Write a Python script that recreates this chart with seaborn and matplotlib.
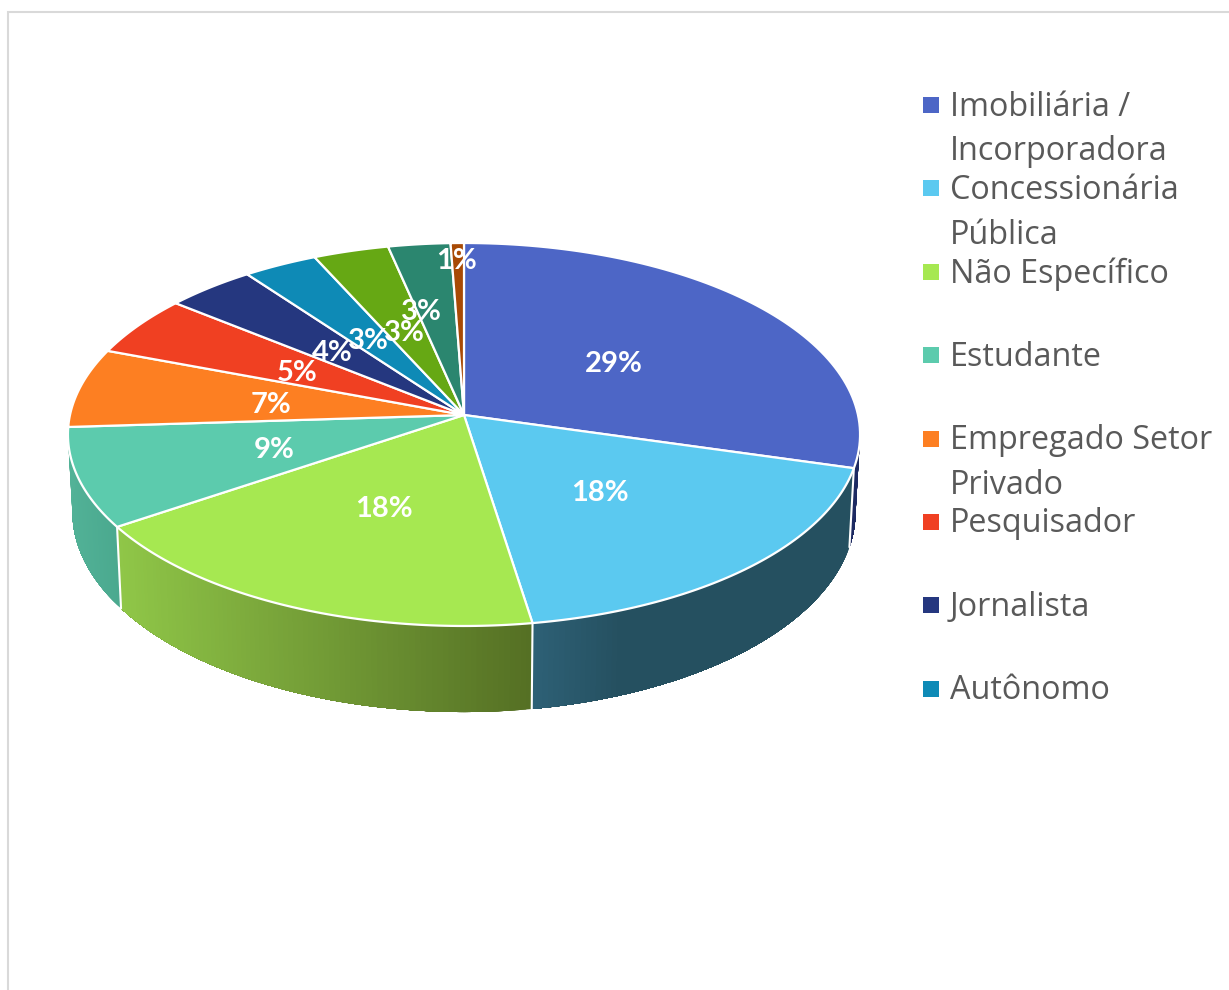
import numpy as np
import matplotlib
matplotlib.use("Agg")
import matplotlib.pyplot as plt
import seaborn as sns

# shares, label = what the chart prints
shares = [29.4, 18.1, 18.1, 8.4, 6.7, 5.1, 4.05, 3.35, 3.4, 2.8, 0.6]
pct_labels = ["29%", "18%", "18%", "9%", "7%", "5%", "4%", "3%", "3%", "3%", "1%"]
legend_labels = ["Imobiliária /\nIncorporadora", "Concessionária\nPública", "Não Específico",
                 "Estudante", "Empregado Setor\nPrivado", "Pesquisador", "Jornalista", "Autônomo"]
top_colors = ["#4d66c6", "#5bc9f0", "#a6e851", "#5ccbad", "#fd7f22", "#f04022",
              "#25377f", "#0e8ab6", "#66a814", "#2b866f", "#a84a05"]
# side colours, left end and right end of the gradient (only the front slices show a side)
side_left = {0: "#1d2a62", 1: "#2e6177", 2: "#90c748", 3: "#52b297"}
side_right = {0: "#1d2a62", 1: "#255060", 2: "#557024", 3: "#4aa88e"}

# the labels the original has off the halfway spot
label_shift = {0: (-3, 0), 2: (3, -1), 9: (-19, -18), 10: (-4, -68)}

CX, CY = 464, 415
K = 0.1018


def project(t, r=1.0, bottom=False):
    # t clockwise from the top of the disc, r as a fraction of the radius
    x = r * np.sin(t)
    y = r * np.cos(t)
    d = 1 + K * y
    if bottom:
        return CX + 389.5 * x / d, CY - 198 * y / d + 76.6
    return CX + 394 * x / d, CY - 189.5 * y / d


sns.set_theme(style="white")
plt.rcParams["font.family"] = ["Open Sans", "DejaVu Sans"]

fig, ax = plt.subplots(figsize=(12.29, 9.9), dpi=100)
ax.set_position([0, 0, 1, 1])
ax.set_xlim(0, 1229)
ax.set_ylim(990, 0)
ax.axis("off")

# chart frame, only top and left are inside the crop
ax.plot([8, 8, 1229], [990, 12, 12], color="#d9d9d9", lw=1.5, solid_joinstyle="miter")

edges = np.radians(np.concatenate([[0], np.cumsum(shares)]) * 3.6)

# sides first, the top covers what is behind
for i in side_left:
    start, stop = edges[i], edges[i + 1]
    if i == 3:
        stop = np.radians(272)
    if i == 0:
        start = np.radians(92)
    ts = np.linspace(start, stop, 90)
    x_top, y_top = project(ts)
    x_bot, y_bot = project(ts, bottom=True)
    lo = np.array(matplotlib.colors.to_rgb(side_left[i]))
    hi = np.array(matplotlib.colors.to_rgb(side_right[i]))
    xmin, xmax = min(x_top.min(), x_bot.min()), max(x_top.max(), x_bot.max())
    # strips run to the end of the slice and get painted over, so no seams show
    for j in range(len(ts) - 1):
        f = (x_top[j] - xmin) / (xmax - xmin)
        if i == 1:
            f = min(f * 3.5, 1)
        c = lo + (hi - lo) * f
        ax.fill(np.r_[x_top[j:], x_bot[j:][::-1]], np.r_[y_top[j:], y_bot[j:][::-1]],
                color=c, lw=0, zorder=2)

# white seams on the side between slices
for i in [0, 1, 2]:
    x0, y0 = project(edges[i + 1])
    x1, y1 = project(edges[i + 1], bottom=True)
    ax.plot([x0, x1], [y0, y1], color="white", lw=1.5, zorder=3)

# top of the pie
for i, c in enumerate(top_colors):
    ts = np.linspace(edges[i], edges[i + 1], 80)
    x, y = project(ts)
    ax.fill(np.r_[CX, x], np.r_[CY, y], facecolor=c, edgecolor="white", lw=1.6,
            joinstyle="round", zorder=4)

# percent labels, halfway along each slice
for i, lab in enumerate(pct_labels):
    x, y = project((edges[i] + edges[i + 1]) / 2, r=0.5)
    dx, dy = label_shift.get(i, (0, 0))
    ax.text(x + dx, y + dy + 4, lab, color="white", fontsize=21, fontweight="bold",
            family="Lato", ha="center", va="center", zorder=6)

# legend, drawn by hand because the wrapped rows overlap their spacing
for i, lab in enumerate(legend_labels):
    row = 104 + i * 83.4
    ax.scatter(931, row + 1, marker="s", s=130, color=top_colors[i], linewidths=0, zorder=6)
    for n, part in enumerate(lab.split("\n")):
        ax.text(950, row + 3 + n * 45, part, color="#595959", fontsize=23.3,
                ha="left", va="center")

fig.savefig("out.png", dpi=100)
